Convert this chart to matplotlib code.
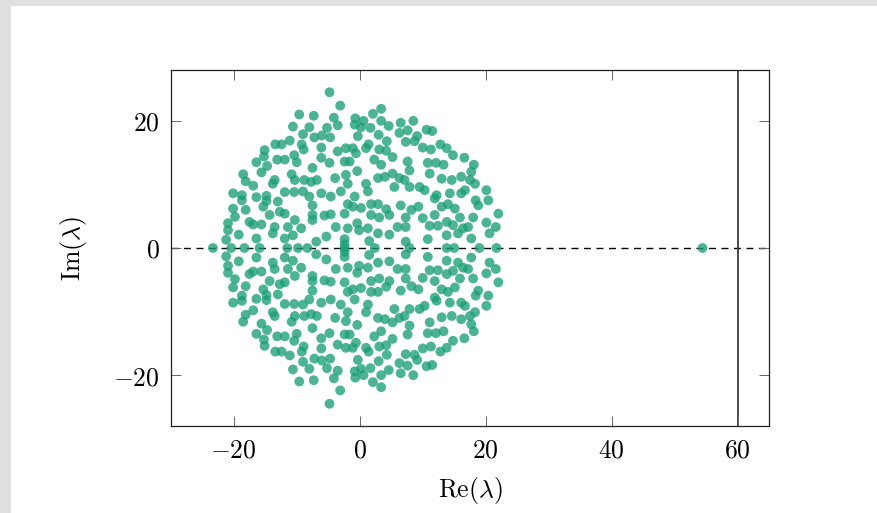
import numpy as np
import matplotlib
matplotlib.use("Agg")
import matplotlib.pyplot as plt
from matplotlib.patches import Rectangle

# ---- data: eigenvalues (upper half-plane; conjugates mirrored) ----
re_upper = [
    -9.6, -10.6, -11.1, -12.4, -13.4, -15.1, -15.2, -16.4, -14.7, -13.1, -11.9, -10.4, -10.0,
    -4.8, -3.1, -7.3, -4.1, -3.5, -8.0, -9.0, -7.2, -6.0, -5.2, -4.7, -9.2, -8.9, -6.1, -3.5,
    -2.2, -1.1, -0.6, -0.7, -0.8, 0.6, 0.2, 1.7, 2.1, 3.4, 3.4, 4.6, 3.0, 4.3, -0.3, 1.0, 1.4,
    3.1, 4.2, 5.2, 6.5, 7.6, 7.3, 6.3, -6.1, -4.8, -2.4, -1.6, 2.3, 3.4, -7.5, 7.6,
    8.5, 10.6, 11.5, 9.1, 8.7, 10.0, 11.3, 12.8, 13.8, 14.8, 16.6, 18.1, 10.8, 12.1, 13.3,
    -18.5, -18.1, -16.9, -15.6, -13.5, -13.8, -10.8, -10.3, -11.9, -10.4, -20.1, -18.7, -18.7,
    -16.4, -14.8, -14.8, -15.3, -13.0, -20.1, -18.1, -19.8, -20.9, -20.9, -19.2, -17.5, -16.9,
    -15.6, -14.3, -12.7, -11.9, -13.5, -13.8, -11.4, -10.3, -10.6, -11.9, -16.4, -21.2,
    -0.4, 5.2, 7.9, -8.8, -7.7, -6.8, -3.9, -2.2, -1.9, 1.0, 2.9, 4.0, 6.3, 7.1, 5.5, 7.9,
    -9.0, -6.1, -4.6, -3.0, 1.3, -0.8, -8.0, -7.5, -1.9, -1.1, 0.2, 1.8, 2.9, 4.2, 6.5, -7.5,
    -5.6, -4.6, -2.4, 1.8, 3.1, 4.7, 7.3, -7.5, -0.4, -3.8, -1.9, 1.3, -0.1, 6.0, 7.3, -9.3,
    2.9, 4.7, -5.3, -6.9, -2.4, -2.4, 1.5, 7.3,
    11.1, 13.0, 14.6, 16.1, 17.5, 18.3, 17.7, 9.5, 10.3, 12.2, 11.9, 14.3, 16.1, 16.7, 20.1,
    18.4, 20.4, 18.8, 9.3, 13.0, 14.0, 15.1, 8.2, 11.9, 10.0, 15.9, 18.0, 22.0, 11.1, 12.4,
    13.8, 14.8, 16.4, 17.2, 20.1, 21.6, 13.8, 15.6, 17.7, 20.6, 10.8,
]
im_upper = [
    21.0, 19.1, 16.9, 16.3, 16.3, 15.4, 14.4, 13.5, 12.9, 13.9, 13.9, 14.6, 13.5,
    24.5, 22.4, 20.8, 20.5, 19.3, 19.0, 17.9, 17.4, 17.7, 18.9, 17.4, 16.3, 15.5, 15.8, 15.2,
    15.7, 15.7, 14.9, 20.4, 19.4, 20.0, 19.0, 18.9, 21.1, 21.9, 20.0, 19.2, 17.8, 16.8, 17.6, 15.7, 16.3,
    15.5, 15.3, 14.3, 19.7, 18.5, 16.7, 18.1, 14.2, 13.4, 13.6, 13.6, 13.9, 13.1, 12.6, 13.6,
    20.0, 18.6, 18.4, 17.6, 16.8, 15.8, 15.5, 16.3, 15.7, 14.6, 14.2, 13.1, 13.4, 13.4, 13.1,
    11.6, 10.5, 9.8, 11.9, 10.7, 10.1, 11.6, 10.7, 8.8, 8.8, 8.6, 8.3, 7.5,
    8.0, 8.2, 7.4, 6.5, 7.3, 6.2, 6.0, 4.9, 3.9, 2.8, 2.1, 4.1, 3.7,
    3.7, 5.2, 5.7, 5.4, 3.3, 2.3, 3.3, 4.4, 2.0, 1.5, 1.5, 1.3,
    12.1, 11.7, 12.2, 10.7, 10.4, 10.7, 11.0, 11.5, 10.1, 10.1, 11.0, 11.2, 11.0, 10.7, 9.6, 9.6,
    8.9, 8.6, 8.1, 8.9, 8.9, 8.1, 8.1, 6.7, 6.9, 6.5, 6.3, 6.9, 6.9, 6.1, 6.7, 5.2,
    5.1, 5.3, 5.4, 5.2, 4.8, 5.2, 4.8, 4.4, 3.9, 3.3, 3.1, 3.1, 2.8, 3.3, 3.3, 3.1,
    2.3, 2.1, 1.8, 1.0, 1.4, 0.6, 1.1, 1.0,
    11.7, 10.9, 10.7, 11.2, 10.7, 10.1, 12.0, 9.6, 9.1, 8.3, 7.8, 8.6, 8.6, 9.1, 9.1,
    7.5, 7.5, 6.7, 6.5, 6.5, 6.9, 6.2, 6.0, 5.2, 4.7, 4.8, 4.8, 5.4, 3.5, 3.5,
    4.1, 3.6, 3.1, 3.3, 4.0, 3.3, 2.0, 2.3, 1.5, 2.3, 1.4,
]
re_real = [-23.3, -20.4, -18.3, -15.9, -11.5, -9.8, -8.3, -2.4, 2.4, 7.9, 13.8, 15.0, 19.0, 21.7, 54.4]

xticks = [-20, 0, 20, 40, 60]
yticks = [-20, 0, 20]
vline_x = 60

re_all = np.concatenate([re_upper, re_upper, re_real])
im_all = np.concatenate([im_upper, -np.asarray(im_upper), np.zeros(len(re_real))])

# ---- style ----
plt.rcParams['mathtext.fontset'] = 'cm'
plt.rcParams['font.family'] = 'serif'
plt.rcParams['font.serif'] = ['DejaVu Serif']

fig = plt.figure(figsize=(8.77, 5.13), dpi=100)
fig.patch.set_facecolor('#e0e0e0')
fig.add_artist(Rectangle((11 / 877, 0), 1 - 11 / 877, (513 - 6) / 513,
                         transform=fig.transFigure, facecolor='white',
                         edgecolor='none', zorder=-10))

ax = fig.add_axes([170.7 / 877, 87 / 513, 598.6 / 877, 356 / 513])
ax.set_facecolor('white')

ax.axhline(0, color='black', lw=1.0, dashes=(5, 4), zorder=1)
ax.axvline(vline_x, color='#3a3a3a', lw=1.3, zorder=1)
ax.scatter(re_all, im_all, s=50, color='#1b9e77', alpha=0.78, edgecolors='none', zorder=2)

ax.set_xlim(-30, 65)
ax.set_ylim(-28, 28)
ax.set_xticks(xticks, labels=[f'${v}$' for v in xticks])
ax.set_yticks(yticks, labels=[f'${v}$' for v in yticks])
ax.tick_params(direction='in', top=True, right=True, length=7, width=0.7,
               color='#666666', labelsize=18.5, pad=8)
for s in ax.spines.values():
    s.set_linewidth(0.9)
    s.set_color('#222222')

ax.set_xlabel(r'$\mathrm{Re}(\lambda)$', fontsize=18.5, labelpad=9)
ax.set_ylabel(r'$\mathrm{Im}(\lambda)$', fontsize=18.5, labelpad=17)

fig.savefig('out.png', dpi=100)
